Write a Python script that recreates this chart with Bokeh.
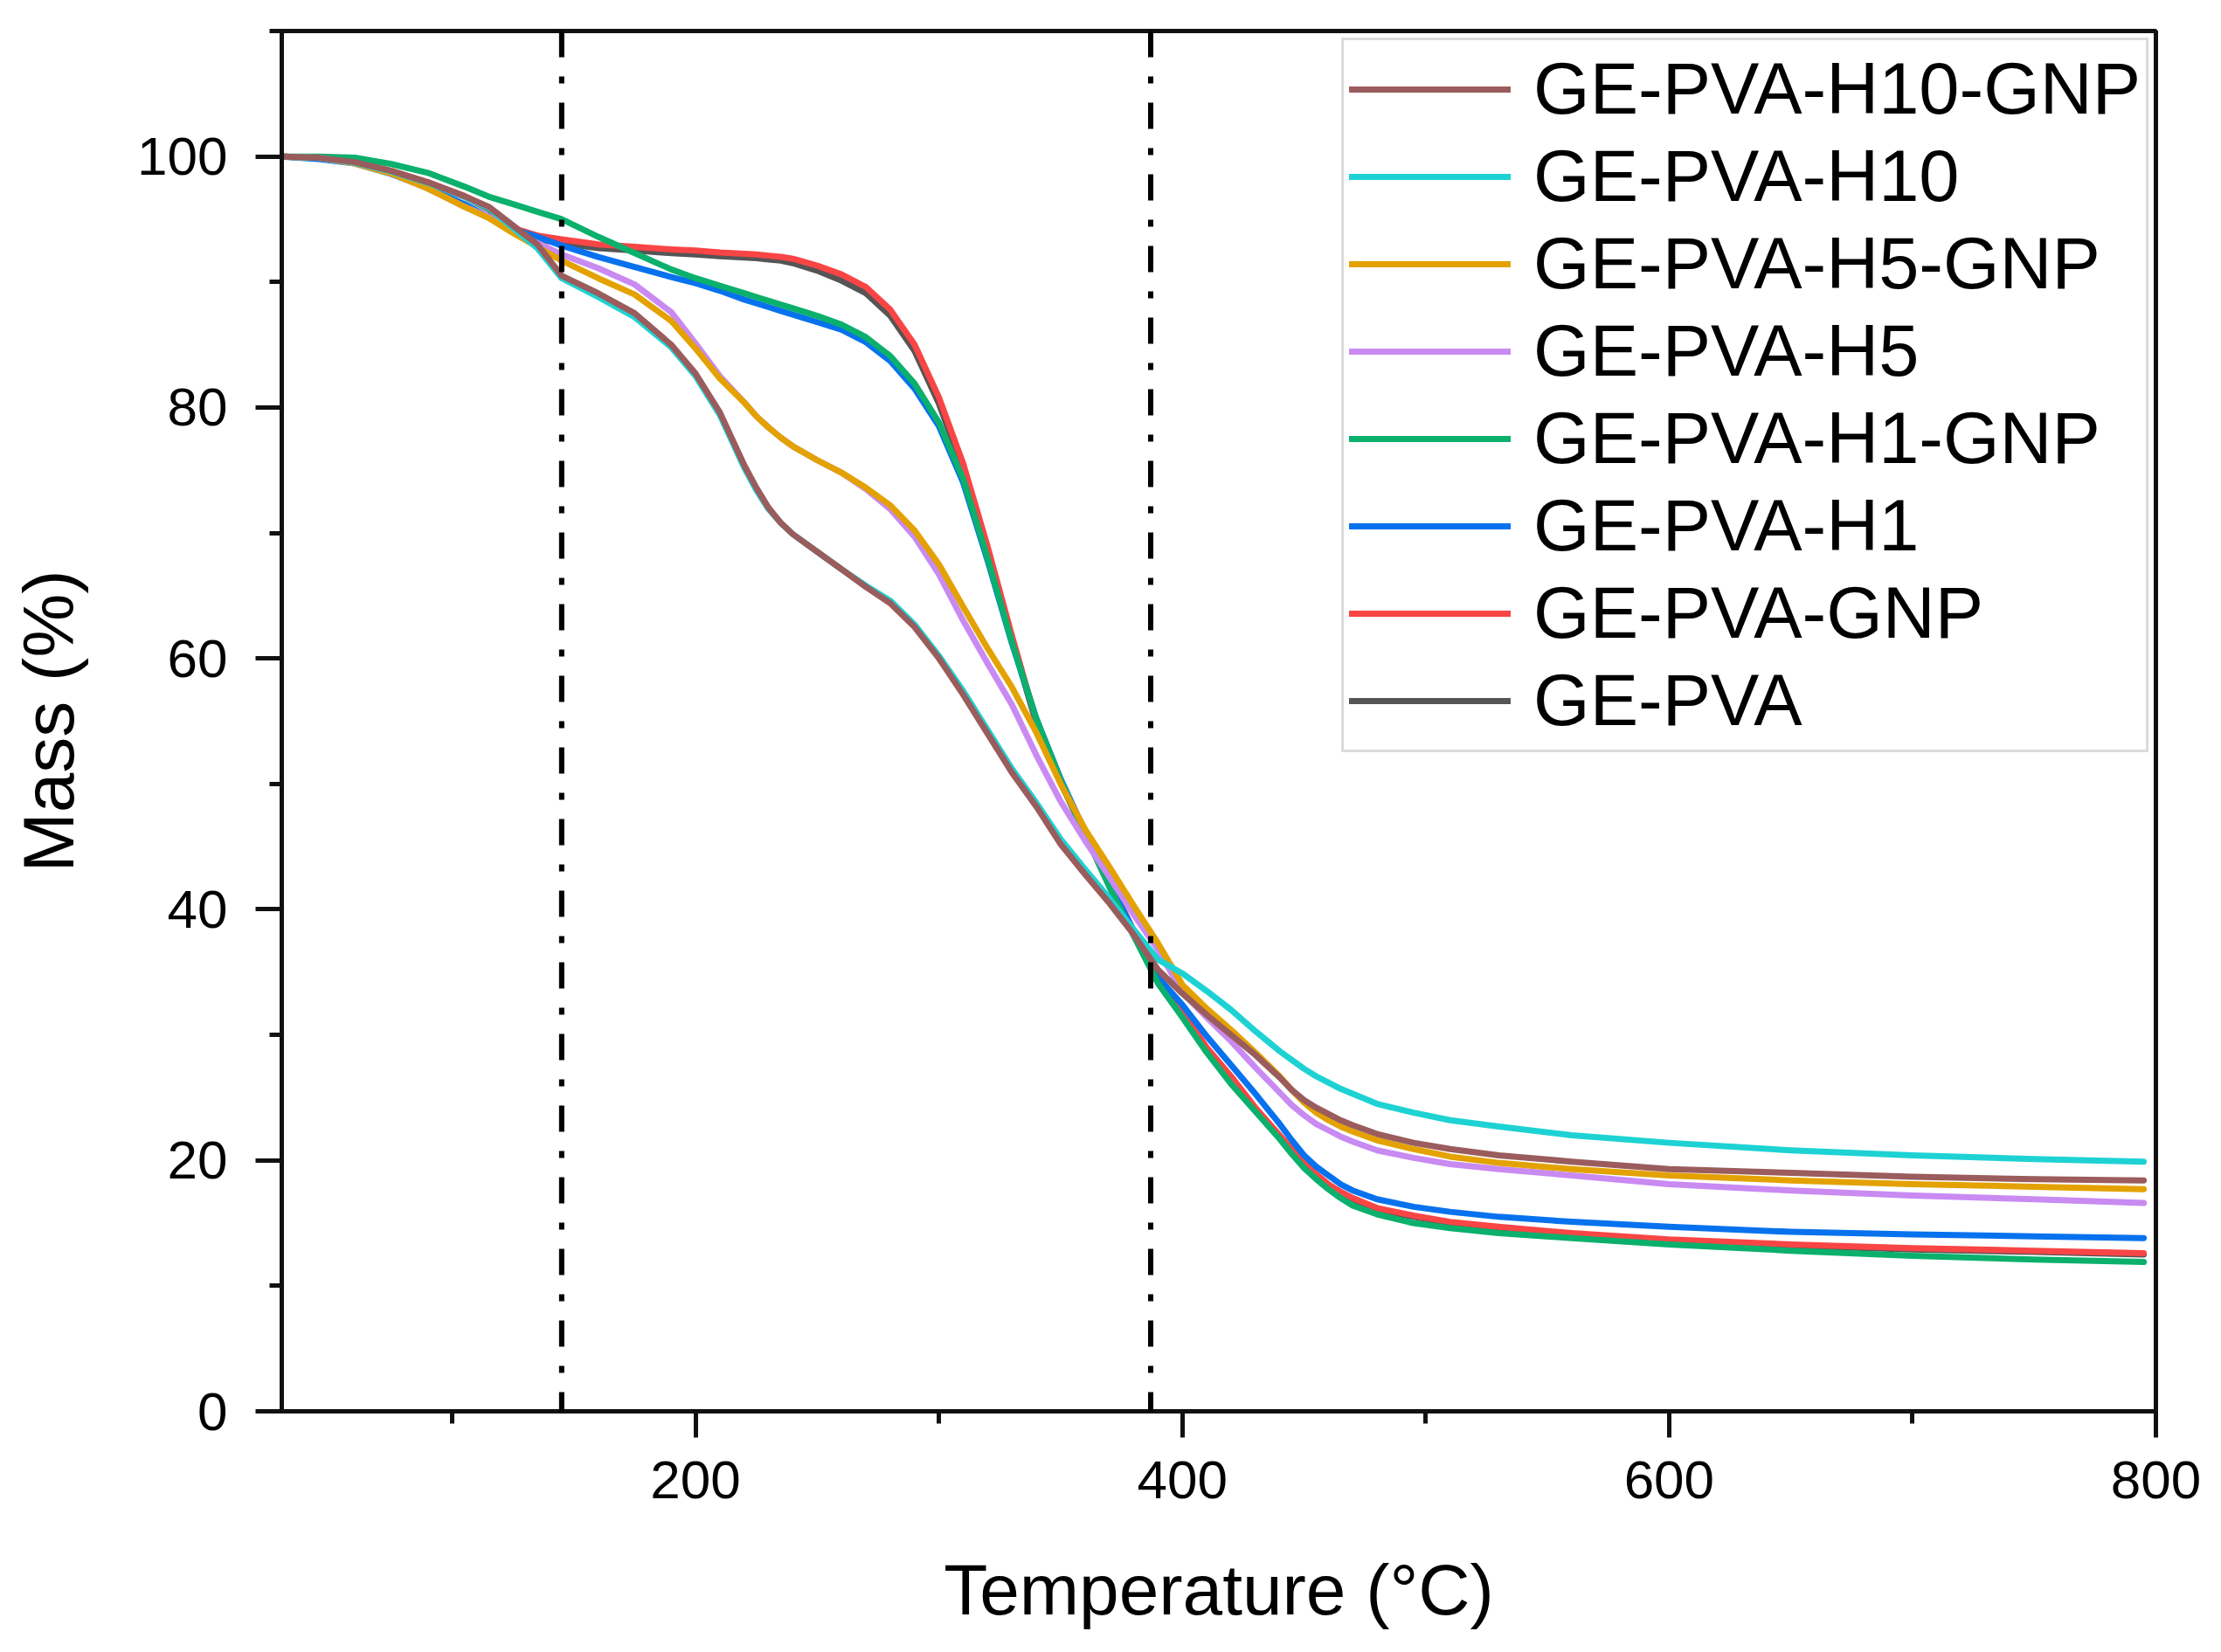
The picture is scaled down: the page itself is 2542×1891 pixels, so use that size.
from bokeh.plotting import figure
from bokeh.models import FixedTicker, Span, Legend, LegendItem, Range1d
from bokeh.embed import file_html
from bokeh.resources import INLINE

# ---------------- data ----------------
temperature = [30, 45, 60, 75, 90, 105, 115, 125, 135, 145,
               160, 175, 190, 200, 210, 220, 225, 230, 235, 240,
               250, 260, 270, 280, 290, 300, 310, 320, 330, 340,
               350, 360, 370, 380, 390, 400, 410, 420, 430, 440,
               445, 450, 455, 460, 465, 470, 480, 495, 510, 530,
               560, 600, 650, 700, 750, 795]

mass_h10_gnp = [100, 99.9, 99.55, 98.85, 97.95, 96.85, 96.0, 94.5, 93.0, 90.5,
                89.1, 87.5, 85.0, 82.7, 79.6, 75.4, 73.6, 72.0, 70.8, 69.9,
                68.5, 67.1, 65.7, 64.4, 62.5, 60.0, 57.1, 54.0, 50.9, 48.2,
                45.2, 42.8, 40.5, 38.0, 35.2, 33.3, 31.6, 30.0, 28.4, 26.6,
                25.6, 24.8, 24.2, 23.7, 23.2, 22.8, 22.1, 21.4, 20.9, 20.4,
                19.9, 19.3, 19.0, 18.7, 18.5, 18.4]

mass_h10 = [100, 99.9, 99.5, 98.8, 97.9, 96.8, 95.9, 94.3, 92.7, 90.3,
            88.8, 87.2, 84.8, 82.5, 79.4, 75.2, 73.4, 71.9, 70.8, 69.9,
            68.5, 67.1, 65.8, 64.6, 62.7, 60.2, 57.4, 54.3, 51.2, 48.5,
            45.6, 43.2, 40.9, 38.4, 36.0, 34.9, 33.5, 32.0, 30.3, 28.7,
            28.0, 27.3, 26.7, 26.2, 25.7, 25.3, 24.5, 23.8, 23.2, 22.7,
            22.0, 21.4, 20.8, 20.4, 20.1, 19.9]

mass_h5_gnp = [100, 99.9, 99.45, 98.65, 97.45, 96.0, 95.1, 93.9, 92.8, 91.7,
               90.3, 89.0, 86.9, 84.7, 82.3, 80.4, 79.3, 78.4, 77.6, 76.9,
               75.8, 74.8, 73.6, 72.2, 70.2, 67.5, 64.1, 60.8, 57.7, 54.1,
               50.0, 46.4, 43.4, 40.3, 37.3, 34.0, 32.1, 30.4, 28.6, 26.7,
               25.6, 24.6, 23.8, 23.2, 22.7, 22.3, 21.6, 20.9, 20.3, 19.8,
               19.3, 18.8, 18.4, 18.1, 17.9, 17.7]

mass_h5 = [100, 99.9, 99.45, 98.65, 97.45, 96.0, 95.2, 94.0, 93.1, 92.2,
           91.1, 89.8, 87.6, 85.1, 82.5, 80.4, 79.3, 78.4, 77.6, 76.9,
           75.8, 74.8, 73.5, 71.9, 69.7, 66.7, 63.0, 59.6, 56.3, 52.3,
           48.6, 45.5, 42.6, 39.6, 36.8, 33.4, 31.4, 29.5, 27.4, 25.4,
           24.4, 23.6, 22.9, 22.4, 21.9, 21.5, 20.8, 20.2, 19.7, 19.3,
           18.8, 18.1, 17.6, 17.2, 16.9, 16.6]

mass_h1_gnp = [100, 100, 99.9, 99.4, 98.7, 97.6, 96.8, 96.2, 95.6, 95.0,
               93.6, 92.3, 91.0, 90.3, 89.7, 89.1, 88.8, 88.5, 88.2, 87.9,
               87.3, 86.6, 85.6, 84.1, 81.9, 78.8, 74.3, 68.0, 61.3, 55.2,
               50.3, 46.0, 41.8, 37.9, 34.1, 31.4, 28.6, 26.1, 23.9, 21.7,
               20.5, 19.4, 18.5, 17.7, 17.0, 16.4, 15.7, 15.0, 14.6, 14.2,
               13.8, 13.3, 12.8, 12.4, 12.1, 11.9]

mass_h1 = [100, 99.8, 99.45, 98.6, 97.5, 96.2, 95.2, 94.2, 93.6, 92.9,
           92.0, 91.2, 90.4, 89.9, 89.3, 88.6, 88.3, 88.0, 87.7, 87.4,
           86.8, 86.2, 85.2, 83.7, 81.5, 78.5, 74.0, 67.8, 61.2, 55.2,
           50.4, 46.2, 42.1, 38.3, 34.6, 32.4, 29.9, 27.6, 25.3, 22.9,
           21.6, 20.4, 19.5, 18.8, 18.1, 17.6, 16.9, 16.3, 15.9, 15.5,
           15.1, 14.7, 14.3, 14.1, 13.95, 13.8]

mass_gnp = [100, 99.9, 99.55, 98.85, 97.95, 96.85, 95.9, 94.3, 93.7, 93.4,
            93.0, 92.8, 92.6, 92.5, 92.35, 92.25, 92.2, 92.1, 92.0, 91.85,
            91.3, 90.6, 89.6, 87.8, 85.0, 80.8, 75.5, 68.9, 61.8, 55.0,
            50.3, 46.2, 42.3, 38.3, 34.6, 31.9, 29.0, 26.7, 24.2, 22.0,
            20.9, 19.8, 18.9, 18.1, 17.5, 17.0, 16.2, 15.6, 15.1, 14.7,
            14.2, 13.7, 13.3, 13.0, 12.8, 12.6]

mass_ge_pva = [100, 99.9, 99.5, 98.8, 97.9, 96.8, 95.8, 94.1, 93.4, 93.1,
               92.7, 92.5, 92.3, 92.2, 92.05, 91.95, 91.9, 91.8, 91.7, 91.5,
               90.9, 90.1, 89.1, 87.3, 84.5, 80.3, 75.0, 68.5, 61.5, 54.8,
               50.1, 46.0, 42.1, 38.1, 34.4, 31.8, 28.9, 26.6, 24.1, 21.9,
               20.8, 19.7, 18.8, 18.0, 17.4, 16.9, 16.1, 15.5, 15.0, 14.6,
               14.1, 13.6, 13.2, 12.9, 12.7, 12.5]

series_names = ["GE-PVA-H10-GNP", "GE-PVA-H10", "GE-PVA-H5-GNP", "GE-PVA-H5",
                "GE-PVA-H1-GNP", "GE-PVA-H1", "GE-PVA-GNP", "GE-PVA"]
series_values = [mass_h10_gnp, mass_h10, mass_h5_gnp, mass_h5,
                 mass_h1_gnp, mass_h1, mass_gnp, mass_ge_pva]
series_colors = ["#9A5C5C", "#1ED2D4", "#E3A202", "#C98AF2",
                 "#0BB06C", "#0872EE", "#F94545", "#555555"]

event_temperatures = [145, 387]

x_major = [200, 400, 600, 800]
x_minor = [100, 300, 500, 700]
y_major = [0, 20, 40, 60, 80, 100]
y_minor = [10, 30, 50, 70, 90, 110]

FONT = "Liberation Sans"

# ---------------- figure ----------------
p = figure(width=2526, height=1875, output_backend="svg", toolbar_location=None,
           x_range=Range1d(30, 800), y_range=Range1d(0, 110),
           min_border_left=322, min_border_right=59,
           min_border_top=35, min_border_bottom=260)
p.background_fill_color = "white"
p.border_fill_color = "white"
p.xgrid.visible = False
p.ygrid.visible = False
p.outline_line_color = "#111111"
p.outline_line_width = 5

# draw in reverse so the first legend entry sits on top
renderers = {}
for name, vals, col in reversed(list(zip(series_names, series_values, series_colors))):
    r = p.line(temperature, vals, line_color=col, line_width=7,
               line_join="round", line_cap="round")
    renderers[name] = r

for t in event_temperatures:
    p.add_layout(Span(location=t, dimension="height", line_color="black",
                      line_width=6, line_dash="30 22 8 22"))

for ax, major, minor in ((p.xaxis, x_major, x_minor), (p.yaxis, y_major, y_minor)):
    ax.ticker = FixedTicker(ticks=major, minor_ticks=minor)
    ax.axis_line_width = 5
    ax.axis_line_color = "#111111"
    ax.major_tick_line_width = 5
    ax.minor_tick_line_width = 5
    ax.major_tick_line_color = "#111111"
    ax.minor_tick_line_color = "#111111"
    ax.major_tick_out = 30
    ax.major_tick_in = 0
    ax.minor_tick_out = 14
    ax.minor_tick_in = 0
    ax.major_label_text_font = FONT
    ax.major_label_text_font_size = "62px"
    ax.major_label_text_color = "black"
    ax.axis_label_text_font = FONT
    ax.axis_label_text_font_size = "82px"
    ax.axis_label_text_font_style = "normal"
    ax.axis_label_text_color = "black"

p.xaxis.axis_label = "Temperature (°C)"
p.yaxis.axis_label = "Mass (%)"
p.xaxis.major_label_standoff = 27
p.yaxis.major_label_standoff = 32
p.xaxis.axis_label_standoff = 56
p.yaxis.axis_label_standoff = 53

legend = Legend(items=[LegendItem(label=n, renderers=[renderers[n]]) for n in series_names],
                location="top_right")
legend.margin = 8
legend.padding = 6
legend.spacing = 0
legend.label_height = 100
legend.glyph_height = 100
legend.glyph_width = 185
legend.label_standoff = 26
legend.label_text_font = FONT
legend.label_text_font_size = "83px"
legend.label_text_color = "black"
legend.border_line_color = "#b5b5b5"
legend.border_line_width = 3
legend.background_fill_color = "white"
legend.background_fill_alpha = 1
p.add_layout(legend)

open("out.html", "w").write(file_html(p, INLINE))
